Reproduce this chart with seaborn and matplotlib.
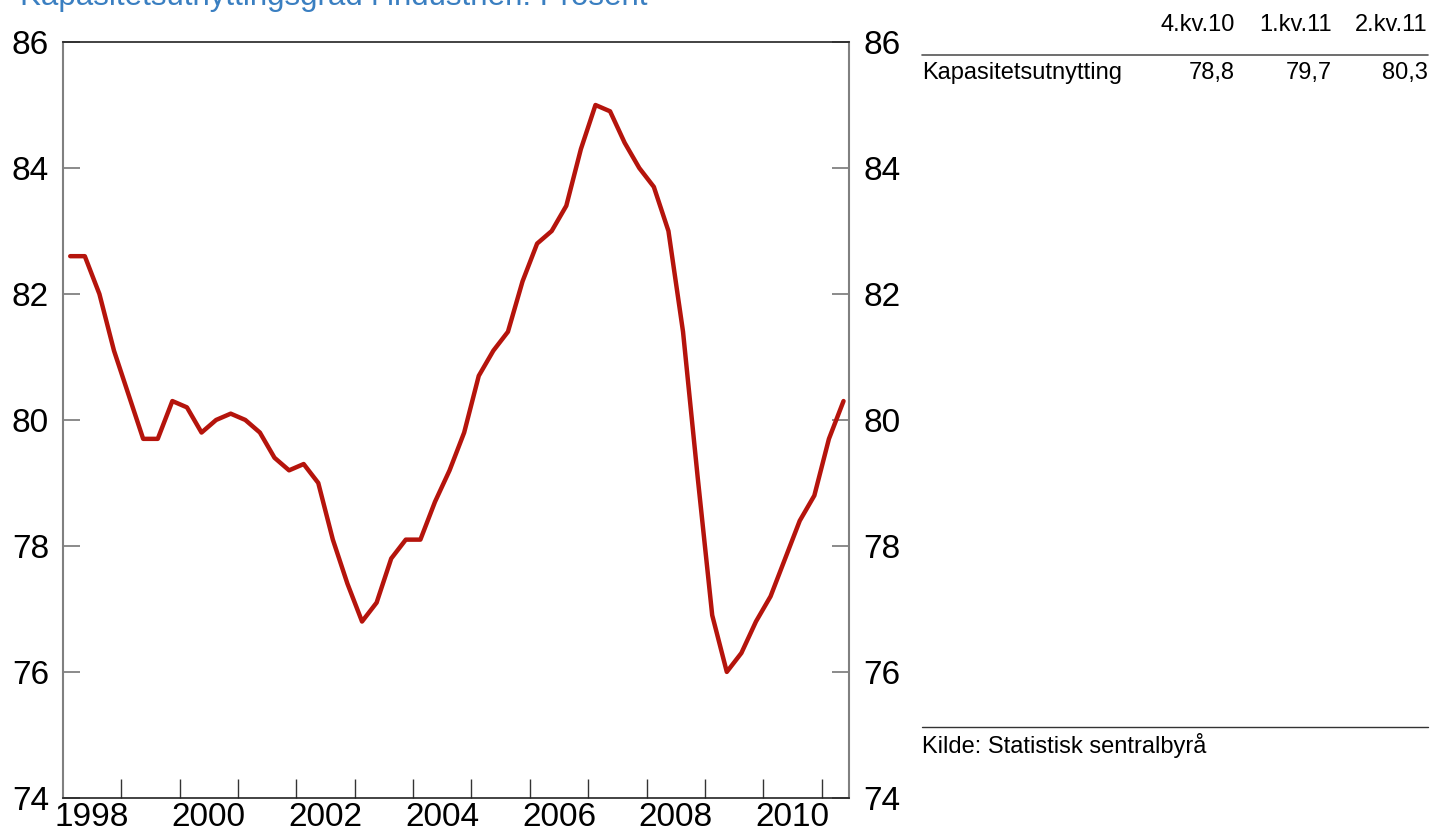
import matplotlib
matplotlib.use("Agg")
import matplotlib.pyplot as plt
import numpy as np
import pandas as pd
import seaborn as sns

# quarterly capacity utilisation, 1998Q1 - 2011Q2
years = list(range(1998, 2012))
values = [82.6, 82.6, 82.0, 81.1,
          80.4, 79.7, 79.7, 80.3,
          80.2, 79.8, 80.0, 80.1,
          80.0, 79.8, 79.4, 79.2,
          79.3, 79.0, 78.1, 77.4,
          76.8, 77.1, 77.8, 78.1,
          78.1, 78.7, 79.2, 79.8,
          80.7, 81.1, 81.4, 82.2,
          82.8, 83.0, 83.4, 84.3,
          85.0, 84.9, 84.4, 84.0,
          83.7, 83.0, 81.4, 79.1,
          76.9, 76.0, 76.3, 76.8,
          77.2, 77.8, 78.4, 78.8,
          79.7, 80.3]
year_labels = ['1998', '2000', '2002', '2004', '2006', '2008', '2010']
y_ticks = [74, 76, 78, 80, 82, 84, 86]

table_cols = ['4.kv.10', '1.kv.11', '2.kv.11']
table_row = 'Kapasitetsutnytting'
table_vals = ['78,8', '79,7', '80,3']

title = 'Kapasitetsutnyttingsgrad i industrien. Prosent'
source = 'Kilde: Statistisk sentralbyrå'

df = pd.DataFrame({'t': [1998 + (i + 0.5) / 4 for i in range(len(values))],
                   'value': values})

sns.set_style('white')
plt.rcParams['font.family'] = ['Liberation Sans', 'DejaVu Sans']
plt.rcParams['text.color'] = 'black'

fig = plt.figure(figsize=(14.3, 8.32), dpi=100)
ax = fig.add_axes([0.044, 0.041, 0.550, 0.9085])

sns.lineplot(data=df, x='t', y='value', ax=ax, color='#b5140c', linewidth=3.2)

ax.set_xlim(1998, 2011.476)
ax.set_ylim(74, 86)
ax.set_xlabel('')
ax.set_ylabel('')

# year boundaries as tick marks, labels centred between them
ax.set_xticks(range(1999, 2012))
ax.set_xticklabels([])
ax.set_xticks([int(y) + 0.5 for y in year_labels], minor=True)
ax.set_xticklabels(year_labels, minor=True)
ax.tick_params(axis='x', which='major', direction='in', length=14, width=1,
               color='#333333', bottom=True)
ax.tick_params(axis='x', which='minor', length=0, labelsize=24, pad=3,
               labelcolor='black')

ax.set_yticks(y_ticks)
ax.tick_params(axis='y', direction='in', length=12, width=1.2, color='#777777',
               left=True, right=True, labelleft=True, labelright=True,
               labelsize=24, pad=10, labelcolor='black')

for side in ['left', 'right']:
    ax.spines[side].set_color('#808080')
    ax.spines[side].set_linewidth(1.5)
for side in ['top', 'bottom']:
    ax.spines[side].set_color('#222222')
    ax.spines[side].set_linewidth(1.2)

# title partially cut at the top
fig.text(0.014, 0.994, title, fontsize=22.5, color='#3a7fc1', va='baseline', ha='left')

# small table on the right
x0, x1 = 922 / 1430, 1428 / 1430
col_x = [1235 / 1430, 1332 / 1430, 1428 / 1430]
for cx, c in zip(col_x, table_cols):
    fig.text(cx, 1 - 25 / 832, c, fontsize=17, ha='right', va='center')
fig.add_artist(plt.Line2D([x0, x1], [1 - 55 / 832] * 2, color='#555555', lw=1.2))
fig.text(x0, 1 - 73 / 832, table_row, fontsize=17, ha='left', va='center')
for cx, v in zip(col_x, table_vals):
    fig.text(cx, 1 - 73 / 832, v, fontsize=17, ha='right', va='center')

fig.add_artist(plt.Line2D([x0, x1], [1 - 727 / 832] * 2, color='#333333', lw=1.0))
fig.text(x0, 1 - 745 / 832, source, fontsize=17, ha='left', va='center')

fig.savefig('out.png', dpi=100)
